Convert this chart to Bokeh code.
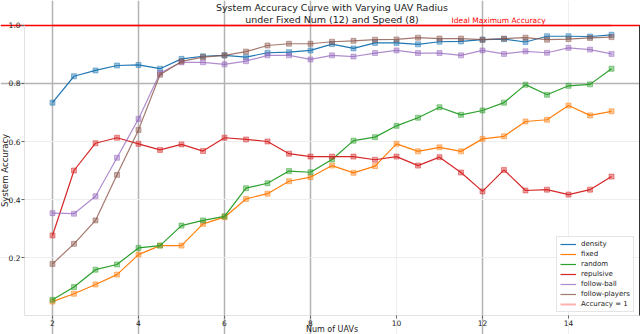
from bokeh.plotting import figure
from bokeh.models import (Range1d, FixedTicker, Label, Legend, LegendItem,
                          LinearAxis, Grid)
from bokeh.embed import file_html
from bokeh.resources import INLINE

NUM_UAVS = [2, 2.5, 3, 3.5, 4, 4.5, 5, 5.5, 6, 6.5, 7, 7.5, 8, 8.5, 9, 9.5,
            10, 10.5, 11, 11.5, 12, 12.5, 13, 13.5, 14, 14.5, 15]

density = [0.734, 0.825, 0.845, 0.862, 0.864, 0.851, 0.885, 0.894, 0.897, 0.891,
           0.906, 0.908, 0.914, 0.936, 0.921, 0.940, 0.940, 0.935, 0.944, 0.945,
           0.951, 0.953, 0.943, 0.963, 0.963, 0.962, 0.968]
fixed = [0.048, 0.075, 0.107, 0.141, 0.210, 0.241, 0.241, 0.316, 0.339, 0.402,
         0.420, 0.463, 0.477, 0.517, 0.492, 0.515, 0.592, 0.566, 0.580, 0.566,
         0.609, 0.618, 0.669, 0.675, 0.724, 0.690, 0.704]
random_ = [0.054, 0.098, 0.158, 0.176, 0.233, 0.241, 0.310, 0.328, 0.342, 0.439,
           0.456, 0.498, 0.494, 0.538, 0.603, 0.615, 0.654, 0.682, 0.718, 0.692,
           0.707, 0.734, 0.796, 0.761, 0.792, 0.797, 0.851]
repulsive = [0.276, 0.500, 0.594, 0.613, 0.592, 0.571, 0.590, 0.567, 0.613, 0.607,
             0.600, 0.558, 0.548, 0.548, 0.548, 0.537, 0.548, 0.517, 0.546, 0.493,
             0.428, 0.502, 0.431, 0.434, 0.417, 0.434, 0.479]
follow_ball = [0.353, 0.351, 0.411, 0.544, 0.678, 0.836, 0.873, 0.873, 0.866, 0.877,
               0.897, 0.897, 0.883, 0.897, 0.893, 0.905, 0.914, 0.905, 0.905, 0.897,
               0.914, 0.902, 0.911, 0.906, 0.923, 0.917, 0.902]
follow_players = [0.178, 0.247, 0.328, 0.485, 0.640, 0.830, 0.876, 0.891, 0.897, 0.910,
                  0.931, 0.937, 0.937, 0.944, 0.947, 0.951, 0.952, 0.958, 0.955, 0.955,
                  0.951, 0.955, 0.958, 0.951, 0.953, 0.957, 0.960]

SERIES_NAMES = ["density", "fixed", "random", "repulsive", "follow-ball", "follow-players"]
SERIES = [density, fixed, random_, repulsive, follow_ball, follow_players]
COLORS = ["#1f77b4", "#ff7f0e", "#2ca02c", "#d62728", "#9467bd", "#8c564b"]
LINE_ALPHA = [1.0, 1.0, 1.0, 1.0, 0.75, 0.8]

X_TICKS = [2, 4, 6, 8, 10, 12, 14]
Y_TICKS = [0.2, 0.4, 0.6, 0.8, 1.0]
STRONG_X_GRID = [2, 4, 6, 8, 12]
FAINT_X_GRID = [10, 14]
STRONG_Y_GRID = [0.8]
FAINT_Y_GRID = [0.2, 0.4, 0.6]
ACCURACY_MAX = 1.0

# axes box (data limits of the matplotlib-like axes)
X_MIN, X_MAX = 1.35, 15.65
Y_MIN, Y_MAX = 0.0, 1.0

TITLE_1 = "System Accuracy Curve with Varying UAV Radius"
TITLE_2 = "under Fixed Num (12) and Speed (8)"
FONT = "DejaVu Sans"

p = figure(width=640, height=334, output_backend="svg", toolbar_location=None,
           x_range=Range1d(0.7907, 15.674), y_range=Range1d(-0.0655, 1.0862),
           x_axis_location=None, y_axis_location=None,
           min_border_left=0, min_border_right=0, min_border_top=0, min_border_bottom=0)
p.background_fill_color = "white"
p.outline_line_color = None
p.xgrid.visible = False
p.ygrid.visible = False

for ticks, col, w in ((FAINT_X_GRID, "#eeeeee", 1), (STRONG_X_GRID, "#b3b3b3", 1.5)):
    p.add_layout(Grid(dimension=0, ticker=FixedTicker(ticks=ticks), bounds=(Y_MIN, Y_MAX),
                      grid_line_color=col, grid_line_width=w))
for ticks, col, w in ((FAINT_Y_GRID, "#eeeeee", 1), (STRONG_Y_GRID, "#b3b3b3", 1.5)):
    p.add_layout(Grid(dimension=1, ticker=FixedTicker(ticks=ticks), bounds=(X_MIN, X_MAX),
                      grid_line_color=col, grid_line_width=w))

# axes
xaxis = LinearAxis(fixed_location=Y_MIN, bounds=(X_MIN, X_MAX), ticker=FixedTicker(ticks=X_TICKS))
yaxis = LinearAxis(fixed_location=X_MIN, bounds=(Y_MIN, Y_MAX), ticker=FixedTicker(ticks=Y_TICKS))
for ax in (xaxis, yaxis):
    ax.axis_line_color = "#e2e2e2"
    ax.major_tick_line_color = "#666666"
    ax.major_tick_out = 3
    ax.major_tick_in = 0
    ax.minor_tick_line_color = None
    ax.major_label_text_font = FONT
    ax.major_label_text_font_size = "7.5px"
    ax.major_label_text_color = "#222222"
    ax.major_label_standoff = 1
yaxis.major_label_overrides = {t: f"{t:.1f}" for t in Y_TICKS}
p.add_layout(xaxis, "below")
p.add_layout(yaxis, "left")
right_spine = LinearAxis(fixed_location=X_MAX, bounds=(Y_MIN, Y_MAX), ticker=FixedTicker(ticks=[]),
                         axis_line_color="#333333", axis_line_width=1,
                         major_label_text_font_size="0px", minor_tick_line_color=None)
p.add_layout(right_spine, "right")

# ideal accuracy line
p.add_layout(Grid(dimension=1, ticker=FixedTicker(ticks=[ACCURACY_MAX]), bounds=(X_MIN, X_MAX),
                  grid_line_color="#ff0000", grid_line_width=1.5))

items = []
for name, ys, c, la in zip(SERIES_NAMES, SERIES, COLORS, LINE_ALPHA):
    r = p.line(NUM_UAVS, ys, line_color=c, line_width=1.2, line_alpha=la)
    p.scatter(NUM_UAVS, ys, marker="square", size=5, fill_color=c, fill_alpha=0.45,
              line_color=c, line_alpha=0.45)
    items.append(LegendItem(label=name, renderers=[r]))
acc_r = p.line(NUM_UAVS, [ACCURACY_MAX] * len(NUM_UAVS), line_color="#ff0000",
               line_alpha=0.3, line_width=2)
items.append(LegendItem(label="Accuracy = 1", renderers=[acc_r]))

legend = Legend(items=items, location=(556, 22), margin=0, padding=3, spacing=2,
                glyph_width=16, glyph_height=8, label_height=8, label_standoff=5,
                label_text_font_size="7px", label_text_font=FONT,
                label_text_color="#222222", border_line_color="#cccccc",
                background_fill_alpha=0.85)
p.add_layout(legend)

p.add_layout(Label(x=0.895, y=0.5, text="System Accuracy", angle=1.5708,
                   text_align="center", text_baseline="middle",
                   text_font=FONT, text_font_size="8.5px", text_color="#222222"))
p.add_layout(Label(x=8.5, y=-0.048, text="Num of UAVs", text_align="center",
                   text_baseline="middle", text_font=FONT, text_font_size="8px",
                   text_color="#222222"))
p.add_layout(Label(x=8.5, y=1.062, text=TITLE_1, text_align="center",
                   text_baseline="alphabetic", text_font=FONT, text_font_size="9.5px",
                   text_color="#222222"))
p.add_layout(Label(x=8.5, y=1.0205, text=TITLE_2, text_align="center",
                   text_baseline="alphabetic", text_font=FONT, text_font_size="9.5px",
                   text_color="#222222"))
p.add_layout(Label(x=11.28, y=1.017, text="Ideal Maximum Accuracy", text_align="left",
                   text_baseline="alphabetic", text_font=FONT, text_font_size="7.5px",
                   text_color="#ff0000"))

open("out.html", "w").write(file_html(p, INLINE))
